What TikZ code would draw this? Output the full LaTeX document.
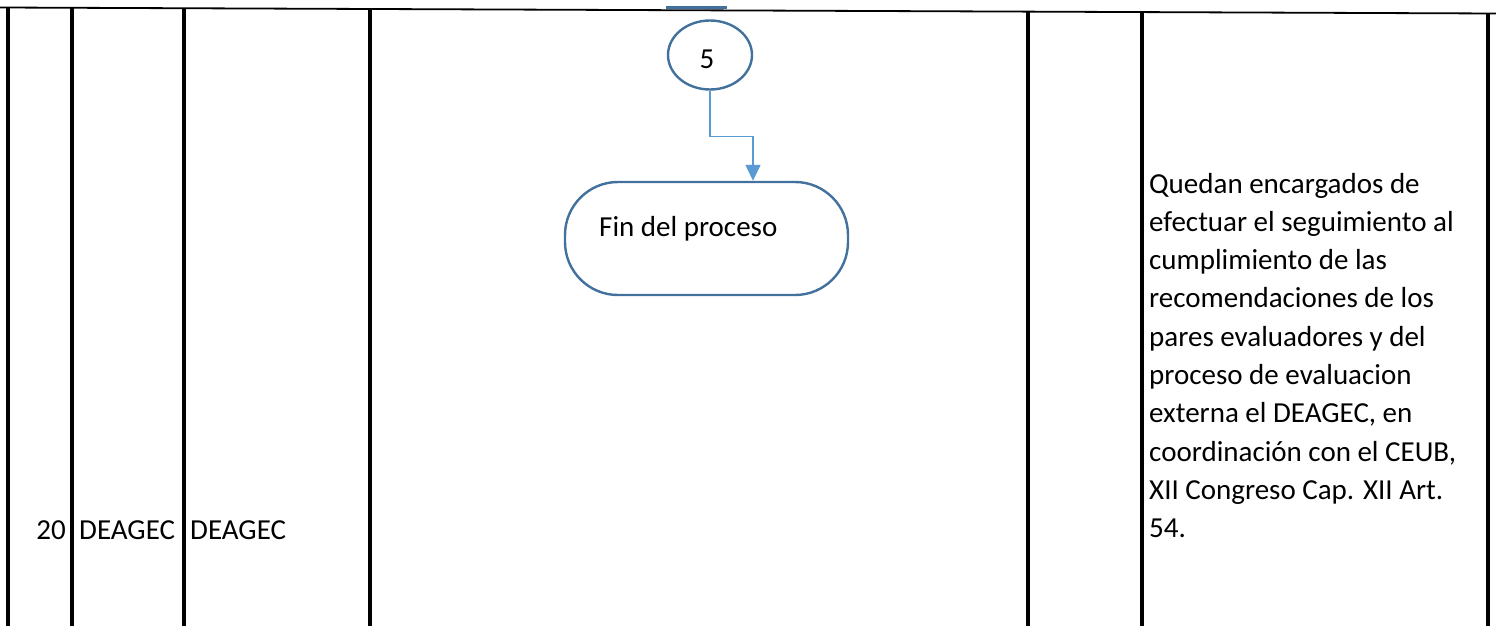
\documentclass[tikz,border=0pt]{standalone}
\usepackage{fontspec}
\setmainfont{Carlito}
\usetikzlibrary{shapes.geometric,arrows.meta}
\definecolor{shapeblue}{RGB}{65,113,156}
\definecolor{flowblue}{RGB}{91,155,213}
\begin{document}
\begin{tikzpicture}[x=1pt,y=-1pt,
  txt/.style={inner sep=0pt, font=\fontsize{29}{38}\selectfont},
  gridline/.style={line width=3.2pt, black},
  flow/.style={draw=flowblue, line width=1.4pt, -{Triangle[width=15pt,length=16pt,fill=flowblue]}},
  shp/.style={draw=shapeblue, line width=2.4pt, inner sep=0pt}]
\useasboundingbox (0,0) rectangle (1496,626);
\fill[white] (0,0) rectangle (1496,626);
% table
\draw[line width=1.8pt, black] (0,7.5) -- (1496,13.5);
\foreach \x in {8,72,184,370,1028,1142,1488} {
  \draw[gridline] (\x,{7.5+6*\x/1496}) -- (\x,626);
}
% incoming connector stub
\coordinate (stubA) at (666,7.5);
\coordinate (stubB) at (727,7.5);
\draw[shapeblue, line width=2.2pt] (stubA) -- (stubB);
% shapes
\node[shp, ellipse, minimum width=84pt, minimum height=69pt] (c5) at (710,55) {};
\node[txt, anchor=base] (c5t) at (707,68) {5};
\node[shp, rectangle, rounded corners=53pt, minimum width=283pt, minimum height=113pt] (term) at (706.5,238.5) {};
\node[txt, anchor=base west] (termt) at (599,236) {Fin del proceso};
\draw[flow] (c5.south) -- ++(0,45.5) -| ([xshift=46.5pt]term.north);
% left cells
\node[txt, anchor=base east] (num) at (66,539) {20};
\node[txt, anchor=base west] (resp1) at (79,539) {DEAGEC};
\node[txt, anchor=base west] (resp2) at (190,539) {DEAGEC};
% right cell
\foreach \t [count=\i from 0] in {Quedan encargados de,efectuar el seguimiento al,cumplimiento de las,recomendaciones de los,pares evaluadores y del,proceso de evaluacion,{externa el DEAGEC, en},{coordinación con el CEUB,},XII Congreso Cap. XII Art.,54.} {
  \node[txt, anchor=base west] (r\i) at (1149,{193+38.3*\i}) {\t};
}
\end{tikzpicture}
\end{document}
